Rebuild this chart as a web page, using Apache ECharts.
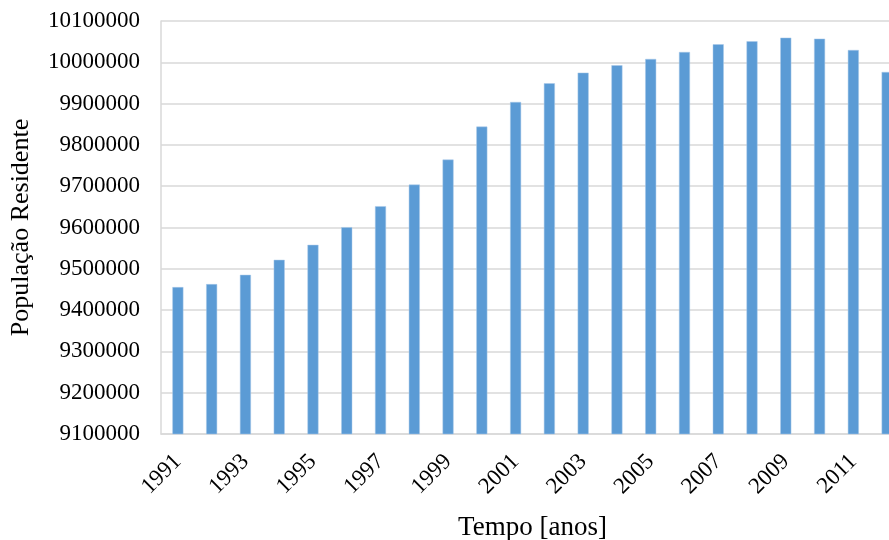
<!DOCTYPE html>
<html>
<head>
<meta charset="utf-8">
<script src="https://cdn.jsdelivr.net/npm/echarts@6/dist/echarts.min.js"></script>
<style>
  html, body { margin: 0; padding: 0; background: #fff; }
  #chart { width: 889px; height: 540px; }
</style>
</head>
<body>
<div id="chart"></div>
<script>
// Resident population per year
const years = ['1991','1992','1993','1994','1995','1996','1997','1998','1999','2000','2001',
               '2002','2003','2004','2005','2006','2007','2008','2009','2010','2011','2012'];
const population = [9455700, 9462900, 9485400, 9521700, 9558000, 9600800, 9651600, 9703900,
                    9764400, 9844300, 9904000, 9949300, 9974900, 9992800, 10008100, 10025000,
                    10043600, 10050900, 10059600, 10057200, 10029800, 9976600];
const yMin = 9100000, yMax = 10100000, yStep = 100000;

const serif = 'Liberation Serif';
const chart = echarts.init(document.getElementById('chart'));
chart.setOption({
  animation: false,
  // plot area runs a little past the right edge of the canvas
  grid: { left: 161, top: 21, height: 413, width: 743, containLabel: false, outerBoundsMode: 'none' },
  xAxis: {
    type: 'category',
    data: years,
    name: 'Tempo [anos]',
    nameLocation: 'middle',
    nameGap: 80,
    nameTextStyle: { fontFamily: serif, fontSize: 27, color: '#000' },
    axisLine: { lineStyle: { color: '#d9d9d9', width: 1.5 } },
    axisTick: { show: false },
    axisLabel: {
      interval: 1, rotate: 45, margin: 24,
      fontFamily: serif, fontSize: 23, color: '#000'
    }
  },
  yAxis: {
    type: 'value',
    min: yMin, max: yMax, interval: yStep,
    name: 'População Residente',
    nameLocation: 'middle',
    nameGap: 127,
    nameTextStyle: { fontFamily: serif, fontSize: 26, color: '#000' },
    axisLine: { show: true, lineStyle: { color: '#d9d9d9', width: 1.5 } },
    axisTick: { show: false },
    splitLine: { lineStyle: { color: '#d9d9d9', width: 1.5 } },
    axisLabel: {
      margin: 21, fontFamily: serif, fontSize: 23, color: '#000',
      formatter: v => String(v)
    }
  },
  series: [{
    type: 'bar',
    data: population,
    barWidth: 11,
    itemStyle: { color: '#5b9bd5', borderColor: '#a8c8e8', borderWidth: 0.5 }
  }]
});
</script>
</body>
</html>
